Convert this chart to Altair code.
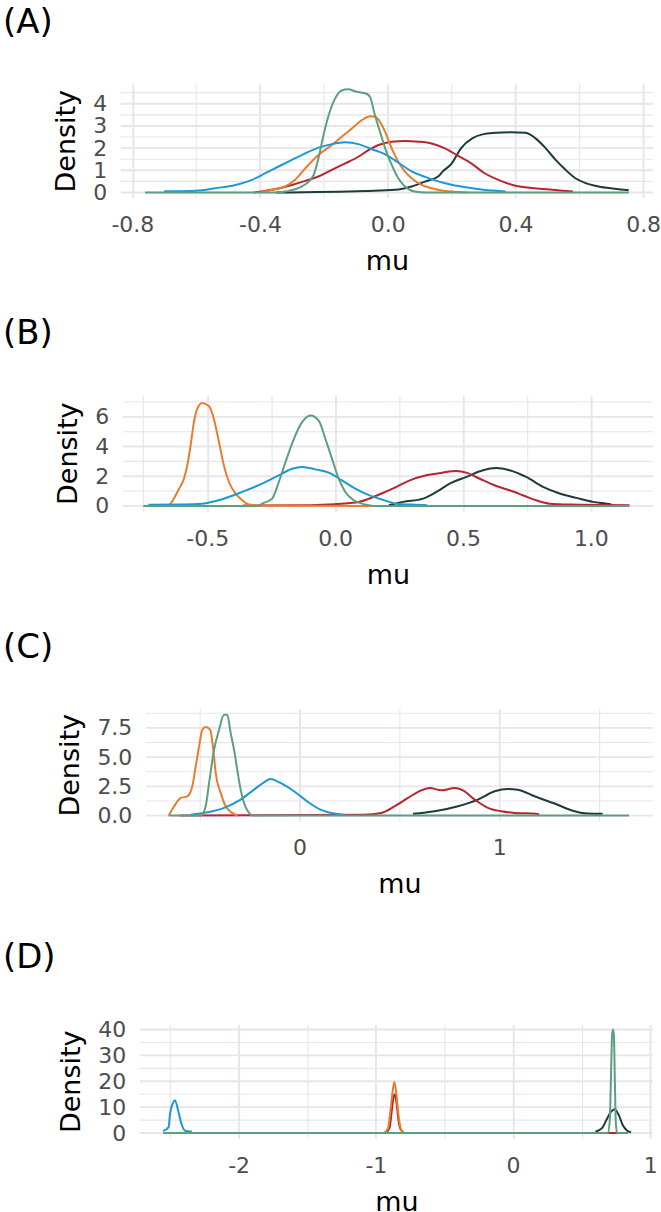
import altair as alt
import pandas as pd

FONT = "DejaVu Sans"
GRID = "#e8e4ea"
COLORS = {
    "dark": "#1c3b3c",
    "red": "#b7262f",
    "orange": "#e97c2c",
    "blue": "#1b98d5",
    "green": "#5b9f7c",
}
ORDER = ["dark", "red", "orange", "blue", "green"]

# ---------------- Panel A ----------------
A_dark_mu = [-0.35, -0.07, 0.023, 0.075, 0.117, 0.158, 0.172, 0.2, 0.23, 0.266, 0.297, 0.338, 0.385, 0.432, 0.463, 0.495, 0.526, 0.557, 0.588, 0.62, 0.66, 0.71, 0.755]
A_dark_den = [0.0, 0.07, 0.12, 0.27, 0.49, 0.72, 0.94, 1.3, 2.0, 2.45, 2.62, 2.69, 2.72, 2.69, 2.44, 1.99, 1.47, 1.02, 0.64, 0.42, 0.27, 0.17, 0.1]
A_red_mu = [-0.42, -0.3625, -0.3, -0.258, -0.217, -0.175, -0.133, -0.092, -0.06, -0.029, 0.0125, 0.054, 0.096, 0.1375, 0.179, 0.221, 0.263, 0.30, 0.36, 0.40, 0.46, 0.516, 0.58]
A_red_den = [0.0, 0.12, 0.34, 0.52, 0.72, 1.02, 1.31, 1.61, 1.91, 2.14, 2.29, 2.32, 2.29, 2.21, 1.99, 1.65, 1.3, 0.9, 0.49, 0.3, 0.19, 0.12, 0.04]
A_orange_mu = [-0.40, -0.3625, -0.321, -0.29, -0.258, -0.217, -0.175, -0.144, -0.1125, -0.081, -0.055, -0.04, -0.024, -0.008, 0.0125, 0.033, 0.054, 0.075, 0.106, 0.1375, 0.169, 0.2, 0.25]
A_orange_den = [0.0, 0.12, 0.27, 0.57, 1.09, 1.69, 2.14, 2.51, 2.88, 3.26, 3.44, 3.41, 3.18, 2.73, 1.99, 1.39, 0.94, 0.64, 0.34, 0.19, 0.09, 0.04, 0.0]
A_blue_mu = [-0.70, -0.60, -0.54, -0.477, -0.425, -0.383, -0.342, -0.30, -0.258, -0.217, -0.175, -0.133, -0.092, -0.05, -0.008, 0.033, 0.075, 0.117, 0.158, 0.2, 0.25, 0.30, 0.37]
A_blue_den = [0.05, 0.08, 0.19, 0.34, 0.57, 0.87, 1.17, 1.47, 1.76, 2.02, 2.18, 2.26, 2.18, 1.95, 1.72, 1.35, 0.95, 0.7, 0.5, 0.35, 0.22, 0.12, 0.04]
A_green_mu = [-0.76, -0.35, -0.321, -0.269, -0.232, -0.217, -0.201, -0.185, -0.165, -0.144, -0.123, -0.102, -0.066, -0.055, -0.04, -0.024, -0.008, 0.0125, 0.033, 0.054, 0.085, 0.12, 0.755]
A_green_den = [0.0, 0.0, 0.04, 0.27, 0.79, 1.54, 2.59, 3.48, 4.23, 4.6, 4.65, 4.56, 4.45, 4.3, 3.48, 2.73, 1.99, 1.24, 0.64, 0.27, 0.04, 0.0, 0.0]

# ---------------- Panel B ----------------
B_dark_mu = [0.21, 0.266, 0.344, 0.396, 0.448, 0.513, 0.578, 0.63, 0.682, 0.747, 0.813, 0.878, 0.943, 1.008, 1.06, 1.08]
B_dark_den = [0.05, 0.27, 0.49, 0.94, 1.5, 1.95, 2.4, 2.55, 2.4, 1.95, 1.28, 0.83, 0.54, 0.27, 0.15, 0.1]
B_red_mu = [-0.36, -0.1, 0.08, 0.184, 0.24, 0.292, 0.357, 0.42, 0.474, 0.513, 0.565, 0.63, 0.682, 0.734, 0.786, 0.839, 0.917, 1.151]
B_red_den = [0.02, 0.05, 0.22, 0.85, 1.28, 1.72, 2.06, 2.24, 2.35, 2.24, 1.83, 1.34, 1.05, 0.72, 0.38, 0.15, 0.09, 0.05]
B_orange_mu = [-0.66, -0.65, -0.61, -0.591, -0.578, -0.565, -0.552, -0.539, -0.52, -0.493, -0.474, -0.454, -0.435, -0.415, -0.389, -0.363, -0.337, -0.30, 0.15]
B_orange_den = [0.0, 0.05, 1.16, 1.83, 2.73, 4.07, 5.64, 6.53, 6.93, 6.71, 5.86, 4.3, 2.73, 1.61, 0.83, 0.38, 0.09, 0.02, 0.0]
B_blue_mu = [-0.73, -0.60, -0.52, -0.441, -0.363, -0.285, -0.22, -0.168, -0.129, -0.077, -0.025, 0.027, 0.079, 0.132, 0.184, 0.24, 0.30, 0.36]
B_blue_den = [0.08, 0.1, 0.15, 0.45, 0.94, 1.5, 2.06, 2.5, 2.62, 2.46, 2.24, 1.72, 1.16, 0.72, 0.42, 0.15, 0.09, 0.05]
B_green_mu = [-0.75, -0.30, -0.285, -0.246, -0.22, -0.194, -0.161, -0.129, -0.096, -0.064, -0.038, -0.012, 0.014, 0.04, 0.073, 0.118, 0.15, 1.15]
B_green_den = [0.0, 0.0, 0.15, 0.49, 1.61, 2.95, 4.52, 5.64, 6.09, 5.75, 4.52, 3.17, 1.83, 0.94, 0.38, 0.09, 0.0, 0.0]

# ---------------- Panel C ----------------
C_dark_mu = [0.568, 0.677, 0.793, 0.893, 0.977, 1.043, 1.093, 1.177, 1.277, 1.377, 1.443, 1.518]
C_dark_den = [0.15, 0.37, 0.8, 1.37, 2.08, 2.28, 2.22, 1.65, 1.03, 0.37, 0.17, 0.15]
C_red_mu = [-0.6, 0.32, 0.41, 0.477, 0.543, 0.61, 0.652, 0.71, 0.777, 0.818, 0.877, 0.943, 1.01, 1.077, 1.185, 1.2]
C_red_den = [0.0, 0.08, 0.23, 0.8, 1.51, 2.16, 2.36, 2.16, 2.36, 2.16, 1.37, 0.66, 0.37, 0.23, 0.15, 0.1]
C_orange_mu = [-0.655, -0.628, -0.595, -0.562, -0.537, -0.52, -0.503, -0.487, -0.47, -0.448, -0.432, -0.42, -0.395, -0.37, -0.337, -0.31]
C_orange_den = [0.0, 0.8, 1.51, 1.65, 2.51, 4.21, 5.92, 7.35, 7.58, 7.35, 5.64, 3.65, 1.94, 0.8, 0.23, 0.0]
C_blue_mu = [-0.545, -0.46, -0.378, -0.295, -0.228, -0.178, -0.145, -0.095, -0.028, 0.038, 0.105, 0.172, 0.22]
C_blue_den = [0.08, 0.28, 0.66, 1.37, 2.22, 2.85, 3.13, 2.79, 2.08, 1.22, 0.51, 0.17, 0.08]
C_green_mu = [-0.655, -0.495, -0.47, -0.453, -0.428, -0.403, -0.378, -0.362, -0.345, -0.328, -0.312, -0.295, -0.278, -0.253, -0.237, 1.65]
C_green_den = [0.0, 0.0, 0.8, 2.79, 5.64, 7.35, 8.63, 8.63, 7.07, 5.64, 3.93, 2.22, 1.08, 0.23, 0.0, 0.0]

# ---------------- Panel D ----------------
D_dark_mu = [0.60, 0.65, 0.68, 0.71, 0.74, 0.77, 0.80, 0.83, 0.86]
D_dark_den = [0.5, 2.0, 5.0, 8.0, 9.2, 7.0, 3.0, 1.0, 0.3]
D_red_mu = [-0.93, -0.9, -0.885, -0.872, -0.862, -0.85, -0.835, -0.82, -0.79, 0.76]
D_red_den = [0.0, 2.0, 8.0, 13.5, 15.0, 12.0, 5.0, 1.5, 0.0, 0.0]
D_orange_mu = [-0.94, -0.91, -0.895, -0.88, -0.865, -0.85, -0.835, -0.82, -0.80]
D_orange_den = [0.0, 2.0, 8.0, 15.0, 19.7, 15.0, 7.0, 2.0, 0.0]
D_blue_mu = [-2.55, -2.51, -2.5, -2.476, -2.464, -2.44, -2.416, -2.39, -2.34]
D_blue_den = [0.8, 2.3, 7.3, 11.9, 12.7, 8.6, 3.5, 0.9, 0.5]
D_green_mu = [-2.55, 0.69, 0.705, 0.715, 0.722, 0.728, 0.735, 0.742, 0.75, 0.76, 0.84]
D_green_den = [0.0, 0.0, 5.0, 25.0, 38.0, 40.0, 38.0, 20.0, 3.0, 0.0, 0.0]

# Axis breaks (major labelled, minor grid only) and axis limits
A_x_major, A_x_minor = [-0.8, -0.4, 0.0, 0.4, 0.8], [-0.6, -0.2, 0.2, 0.6]
A_y_major, A_y_minor = [0, 1, 2, 3, 4], [0.5, 1.5, 2.5, 3.5, 4.5]
A_xlim, A_ylim = [-0.836, 0.831], [-0.233, 4.9]
B_x_major, B_x_minor = [-0.5, 0.0, 0.5, 1.0], [-0.75, -0.25, 0.25, 0.75]
B_y_major, B_y_minor = [0, 2, 4, 6], [1, 3, 5, 7]
B_xlim, B_ylim = [-0.83, 1.243], [-0.355, 7.45]
C_x_major, C_x_minor = [0, 1], [-0.5, 0.5, 1.5]
C_y_major, C_y_minor = [0.0, 2.5, 5.0, 7.5], [1.25, 3.75, 6.25, 8.75]
C_xlim, C_ylim = [-0.77, 1.77], [-0.435, 9.13]
D_x_major, D_x_minor = [-2, -1, 0, 1], [-2.5, -1.5, -0.5, 0.5]
D_y_major, D_y_minor = [0, 10, 20, 30, 40], [5, 15, 25, 35]
D_xlim, D_ylim = [-2.72, 1.02], [-2.0, 42.0]

# Every panel shares the same drawing origin; a panel whose plotting
# region starts further right gets a wider scale range to its left.
ORIGIN = 118
RIGHT_EDGE = 651
FULL_W = RIGHT_EDGE - ORIGIN


def label_expr(major, fmt):
    maj = "[" + ",".join(repr(float(v)) for v in major) + "]"
    is_major = f"indexof({maj}, datum.value) >= 0"
    label = f"(datum.value < 0 ? '-' : '') + format(abs(datum.value), '{fmt}')"
    return is_major, f"{is_major} ? {label} : ''"


def text_style():
    return dict(
        labelOverlap=False,
        labelFlush=False,
        labelFont=FONT,
        labelFontSize=22,
        labelColor="#4d4d4d",
        titleFont=FONT,
        titleFontSize=27,
        titleFontWeight="normal",
        titleColor="#000000",
        ticks=False,
        domain=False,
    )


def panel(letter, series, xlim, ylim, xmaj, xmin, ymaj, ymin, xfmt, yfmt, left, height):
    width_true = RIGHT_EDGE - left
    px_per_unit = width_true / (xlim[1] - xlim[0])
    xdom = [xlim[0] - (left - ORIGIN) / px_per_unit, xlim[1]]

    x_is_major, x_lab = label_expr(xmaj, xfmt)
    xaxis = alt.Axis(
        values=sorted(xmaj + xmin),
        grid=True,
        gridColor=GRID,
        gridWidth={"condition": {"test": x_is_major, "value": 1.9}, "value": 1.1},
        labelExpr=x_lab,
        labelPadding=17,
        title="mu",
        titlePadding=13,
        titleX=(left + RIGHT_EDGE) / 2 - ORIGIN,
        **text_style(),
    )
    _, y_lab = label_expr(ymaj, yfmt)
    yaxis = alt.Axis(
        values=list(ymaj),
        grid=False,
        labelExpr=y_lab,
        labelPadding=14,
        title="Density",
        titlePadding=12,
        offset=-(left - ORIGIN),
        **text_style(),
    )
    xs = alt.Scale(domain=xdom, nice=False, zero=False)
    ys = alt.Scale(domain=ylim, nice=False, zero=False)

    def enc(chart):
        return chart.encode(
            x=alt.X("mu:Q", scale=xs, axis=xaxis),
            y=alt.Y("Density:Q", scale=ys, axis=yaxis),
        )

    layers = []
    # horizontal grid lines spanning the panel's own x limits
    for vals, w in ((ymin, 1.1), (ymaj, 1.9)):
        gdf = pd.DataFrame({"Density": vals, "mu": [xlim[0]] * len(vals), "mu2": [xlim[1]] * len(vals)})
        layers.append(enc(alt.Chart(gdf).mark_rule(color=GRID, strokeWidth=w)).encode(x2="mu2:Q"))
    for name in ORDER:
        mu, den = series[name]
        df = pd.DataFrame({"mu": mu, "Density": den})
        layers.append(
            enc(alt.Chart(df).mark_line(color=COLORS[name], strokeWidth=2.0,
                                        interpolate="monotone", clip=True))
        )
    return alt.layer(*layers).properties(
        width=FULL_W,
        height=height,
        title=alt.TitleParams(
            text=f"({letter})",
            anchor="start",
            frame="group",
            dx=-ORIGIN,
            offset=44,
            font=FONT,
            fontSize=34,
            fontWeight="normal",
            color="#000000",
        ),
    )


pA = panel("A", {"dark": (A_dark_mu, A_dark_den), "red": (A_red_mu, A_red_den),
                 "orange": (A_orange_mu, A_orange_den), "blue": (A_blue_mu, A_blue_den),
                 "green": (A_green_mu, A_green_den)},
           A_xlim, A_ylim, A_x_major, A_x_minor, A_y_major, A_y_minor, ".1f", "d", 118, 114)
pB = panel("B", {"dark": (B_dark_mu, B_dark_den), "red": (B_red_mu, B_red_den),
                 "orange": (B_orange_mu, B_orange_den), "blue": (B_blue_mu, B_blue_den),
                 "green": (B_green_mu, B_green_den)},
           B_xlim, B_ylim, B_x_major, B_x_minor, B_y_major, B_y_minor, ".1f", "d", 120, 116)
pC = panel("C", {"dark": (C_dark_mu, C_dark_den), "red": (C_red_mu, C_red_den),
                 "orange": (C_orange_mu, C_orange_den), "blue": (C_blue_mu, C_blue_den),
                 "green": (C_green_mu, C_green_den)},
           C_xlim, C_ylim, C_x_major, C_x_minor, C_y_major, C_y_minor, "d", ".1f", 143, 112)
pD = panel("D", {"dark": (D_dark_mu, D_dark_den), "red": (D_red_mu, D_red_den),
                 "orange": (D_orange_mu, D_orange_den), "blue": (D_blue_mu, D_blue_den),
                 "green": (D_green_mu, D_green_den)},
           D_xlim, D_ylim, D_x_major, D_x_minor, D_y_major, D_y_minor, "d", "d", 137, 114)

chart = (
    alt.vconcat(pA, pB, pC, pD, spacing=43)
    .properties(padding={"left": 3, "top": 5, "right": 0, "bottom": 0}, background="white")
    .configure_view(stroke=None)
)

chart.save("out.html", embed_options={"renderer": "svg", "actions": False})
